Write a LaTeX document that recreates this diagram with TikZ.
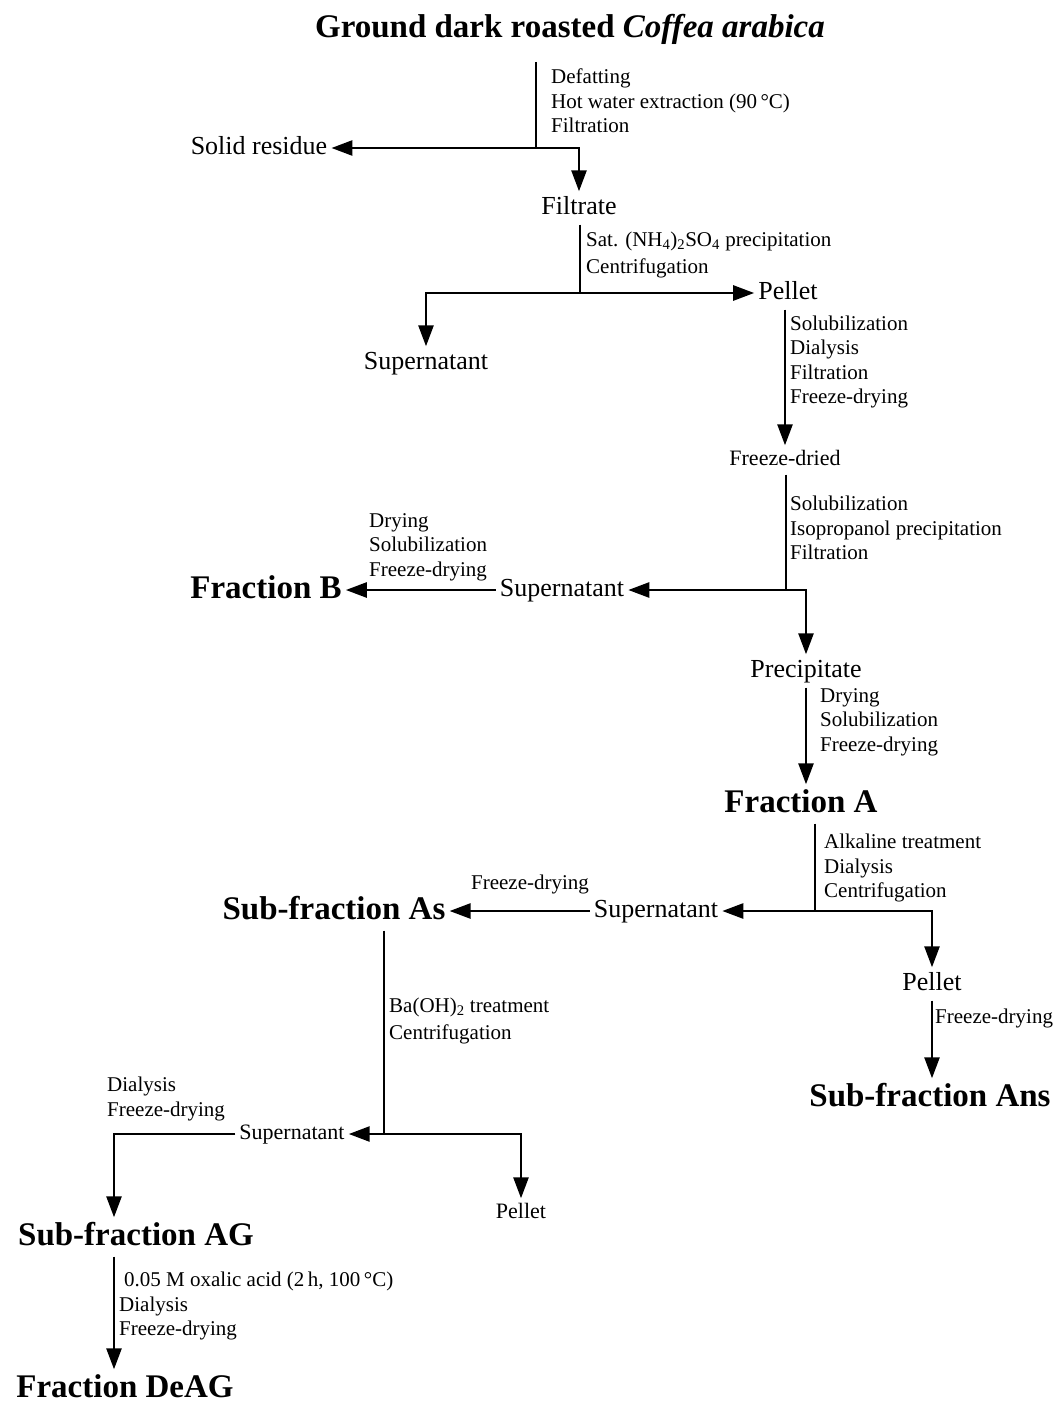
\documentclass[tikz,border=0pt]{standalone}
\usepackage{fontspec}
\setmainfont{Liberation Serif}
\usetikzlibrary{arrows.meta}

\begin{document}
\begin{tikzpicture}[x=1pt, y=-1pt]
    \tikzstyle{fraction}=[
        font = \fontsize{33}{36}\selectfont\bfseries,
        text height = 24pt,
        text depth = 7pt,
        inner sep = 4pt
    ]
    \tikzstyle{product}=[
        font = \fontsize{26}{28}\selectfont,
        text height = 19pt,
        text depth = 6pt,
        inner sep = 4pt
    ]
    \tikzstyle{small product}=[
        font = \fontsize{22}{24}\selectfont,
        text height = 16pt,
        text depth = 5pt,
        inner sep = 4pt
    ]
    \tikzstyle{treatment}=[
        font = \fontsize{21}{24.5}\selectfont,
        align = left,
        anchor = west,
        inner sep = 0pt
    ]
    \tikzstyle{flow line}=[
        line width = 2.6pt,
        -{Triangle[length=21pt, width=15pt]}
    ]
    \tikzstyle{stem line}=[
        line width = 1.5pt
    ]

    \useasboundingbox (0,0) rectangle (1059,1402);

	\node[fraction]      (coffee)   at (570, 29)    {Ground dark roasted \textit{Coffea arabica}};
	\node[product]       (residue)  at (259, 148)   {Solid residue};
	\node[product]       (filtrate) at (579, 208)   {Filtrate};
	\node[product]       (pelletA)  at (788, 293)   {Pellet};
	\node[product]       (superA)   at (426, 363)   {Supernatant};
	\node[small product] (dried)    at (785, 460)   {Freeze-dried};
	\node[product]       (superB)   at (562, 590)   {Supernatant};
	\node[fraction]      (fracB)    at (266, 590)   {Fraction B};
	\node[product]       (precip)   at (806, 671)   {Precipitate};
	\node[fraction]      (fracA)    at (801, 804)   {Fraction A};
	\node[product]       (superC)   at (656, 911)   {Supernatant};
	\node[fraction]      (subAs)    at (334, 911)   {Sub-fraction As};
	\node[product]       (pelletB)  at (932, 984)   {Pellet};
	\node[fraction]      (subAns)   at (930, 1098)  {Sub-fraction Ans};
	\node[small product] (superD)   at (292, 1134)  {Supernatant};
	\node[small product] (pelletC)  at (521, 1213)  {Pellet};
	\node[fraction]      (subAG)    at (136, 1237)  {Sub-fraction AG};
	\node[fraction]      (deAG)     at (125, 1389)  {Fraction DeAG};

	\coordinate (top1)  at (536, 62);
	\coordinate (fork1) at (536, 148);
	\coordinate (fork2) at (580, 293);
	\coordinate (fork3) at (786, 590);
	\coordinate (fork4) at (815, 911);
	\coordinate (fork5) at (384, 1134);
	\coordinate (bend5) at (114, 1134);

	% treatments
	\node[treatment] at (551, 101)  {Defatting\\Hot water extraction (90\,°C)\\Filtration};
	\node[treatment] at (586, 255)  {Sat. (NH\textsubscript{4})\textsubscript{2}SO\textsubscript{4} precipitation\\[3pt]Centrifugation};
	\node[treatment] at (790, 362)  {Solubilization\\Dialysis\\Filtration\\Freeze-drying};
	\node[treatment] at (790, 528)  {Solubilization\\Isopropanol precipitation\\Filtration};
	\node[treatment] at (369, 547)  {Drying\\Solubilization\\Freeze-drying};
	\node[treatment] at (820, 722)  {Drying\\Solubilization\\Freeze-drying};
	\node[treatment] at (824, 868)  {Alkaline treatment\\Dialysis\\Centrifugation};
	\node[treatment, anchor=center] at (530, 884) {Freeze-drying};
	\node[treatment] at (935, 1018) {Freeze-drying};
	\node[treatment] at (389, 1021) {Ba(OH)\textsubscript{2} treatment\\[3pt]Centrifugation};
	\node[treatment] at (107, 1099) {Dialysis\\Freeze-drying};
	\node[treatment] at (119, 1306) {\hspace{5pt}0.05 M oxalic acid (2\,h, 100\,°C)\\Dialysis\\Freeze-drying};

	\draw[stem line] (top1) -- (fork1);
	\draw[flow line] (fork1) -- (residue);
	\draw[flow line] (fork1) -| (filtrate);
	\draw[stem line] (filtrate.south -| fork2) -- (fork2);
	\draw[flow line] (fork2) -- (pelletA);
	\draw[flow line] (fork2) -| (superA);
	\draw[flow line] (pelletA.south -| dried) -- (dried);
	\draw[stem line] (dried.south -| fork3) -- (fork3);
	\draw[flow line] (fork3) -- (superB);
	\draw[flow line] (fork3) -| (precip);
	\draw[flow line] (superB) -- (fracB);
	\draw[flow line] (precip) -- (precip |- fracA.north);
	\draw[stem line] (fracA.south -| fork4) -- (fork4);
	\draw[flow line] (fork4) -- (superC);
	\draw[flow line] (fork4) -| (pelletB);
	\draw[flow line] (superC) -- (subAs);
	\draw[flow line] (pelletB) -- (pelletB |- subAns.north);
	\draw[stem line] (subAs.south -| fork5) -- (fork5);
	\draw[flow line] (fork5) -- (superD);
	\draw[flow line] (fork5) -| (pelletC);
	\draw[flow line] (superD) -- (bend5) -- (bend5 |- subAG.north);
	\draw[flow line] (subAG.south -| bend5) -- (bend5 |- deAG.north);

\end{tikzpicture}
\end{document}
